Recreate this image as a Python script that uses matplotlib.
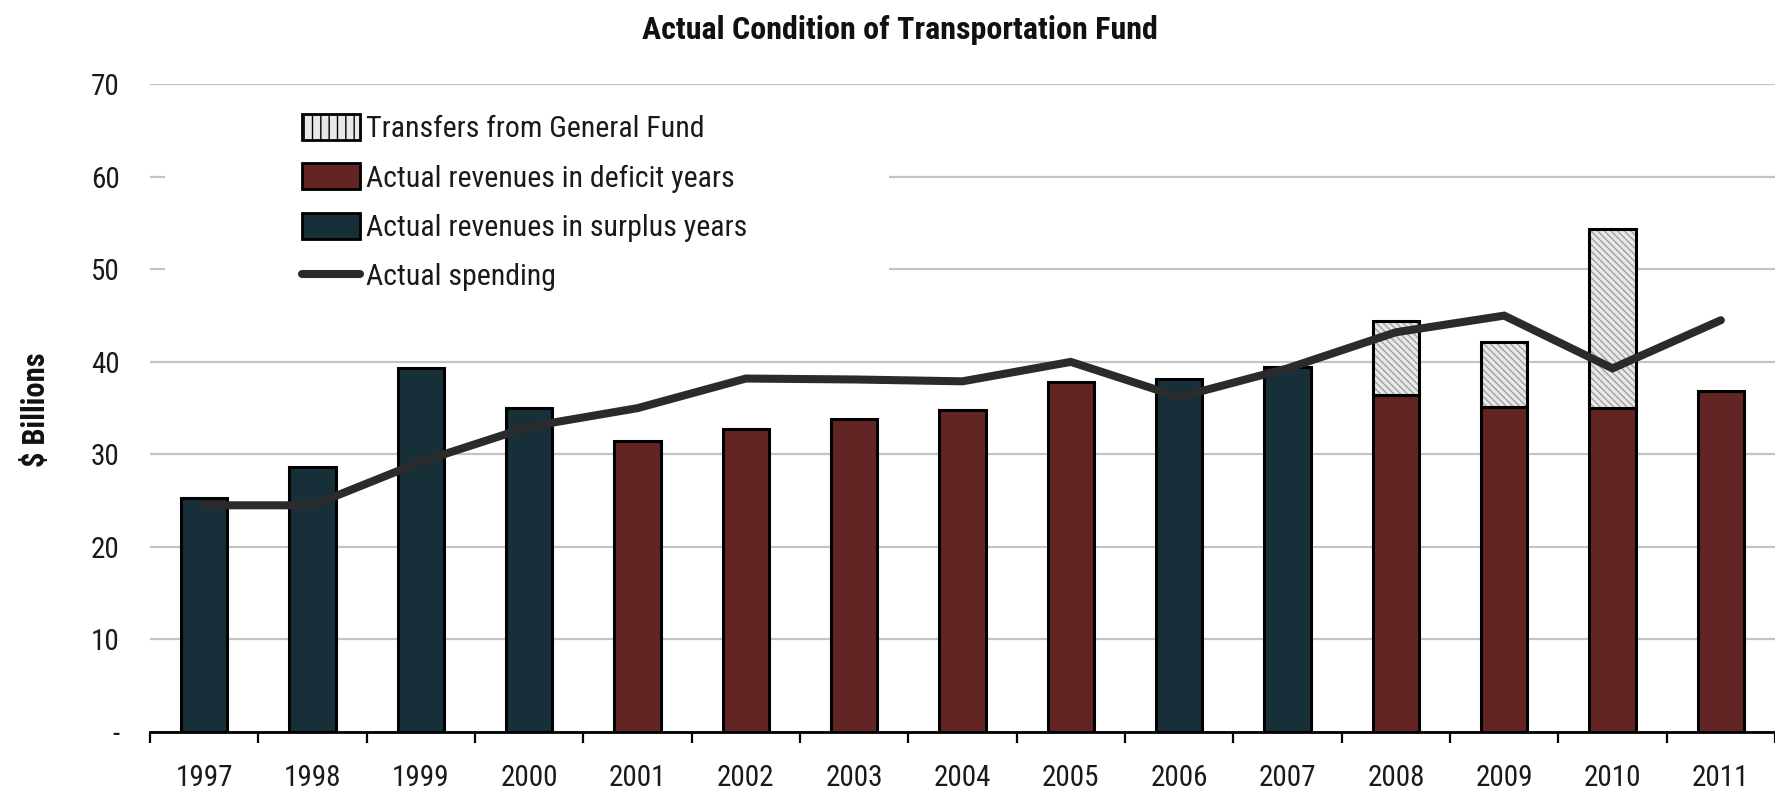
import numpy as np
import matplotlib
matplotlib.use("Agg")
import matplotlib.pyplot as plt
from matplotlib import font_manager
from matplotlib.patches import Patch, Rectangle
from matplotlib.lines import Line2D

names = {f.name for f in font_manager.fontManager.ttflist}
cond = [(f.name, f.stretch) for f in font_manager.fontManager.ttflist]
cands = ['Liberation Sans Narrow', 'Roboto Condensed', 'Open Sans Condensed',
         'Noto Sans Condensed', 'Arial Narrow', 'DejaVu Sans Condensed']
fam = next((c for c in cands if c in names), None)
if fam is None:
    cf = [n for n, s in cond if str(s) in ('condensed', 'semi-condensed', '600', '700', '500')
          and n in ('DejaVu Sans', 'Noto Sans', 'Roboto', 'Open Sans', 'Liberation Sans')]
    fam = cf[0] if cf else 'Liberation Sans'
    plt.rcParams['font.stretch'] = 'condensed'
plt.rcParams['font.family'] = [fam, 'DejaVu Sans']
plt.rcParams['hatch.linewidth'] = 1.0

years = ['1997', '1998', '1999', '2000', '2001', '2002', '2003', '2004',
         '2005', '2006', '2007', '2008', '2009', '2010', '2011']
surplus_revenue = [25.3, 28.6, 39.3, 35.0, 0, 0, 0, 0, 0, 38.1, 39.4, 0, 0, 0, 0]
deficit_revenue = [0, 0, 0, 0, 31.5, 32.7, 33.8, 34.8, 37.8, 0, 0, 36.4, 35.1, 35.0, 36.9]
transfers = [0, 0, 0, 0, 0, 0, 0, 0, 0, 0, 0, 8.0, 7.0, 19.4, 0]
spending = [24.5, 24.5, 29.2, 33.0, 35.0, 38.2, 38.1, 37.9, 40.0, 36.2, 39.3, 43.2, 45.0, 39.3, 44.5]
yticks = [0, 10, 20, 30, 40, 50, 60, 70]
ytick_labels = ['-', '10', '20', '30', '40', '50', '60', '70']

teal = '#172f38'
maroon = '#622524'
hatch_face = '#e8e8e8'
line_col = '#2b2b2b'

W, H = 1775, 789
fig = plt.figure(figsize=(W / 100, H / 100), dpi=100)
ax = fig.add_axes([150 / W, (H - 732) / H, 1625 / W, (732 - 84.3) / H])

x = np.arange(len(years))
sr = np.array(surplus_revenue, float)
dr = np.array(deficit_revenue, float)
tr = np.array(transfers, float)
bw = 0.43
ek = dict(edgecolor='black', linewidth=2.2, zorder=3)

m = sr > 0
ax.bar(x[m], sr[m], bw, color=teal, **ek)
m = dr > 0
ax.bar(x[m], dr[m], bw, color=maroon, **ek)
m = tr > 0
base = (sr + dr)[m]
ax.bar(x[m], tr[m], bw, bottom=base, color=hatch_face, hatch='\\\\\\\\\\',
       **ek)
for p in ax.patches[-int(m.sum()):]:
    p._hatch_color = matplotlib.colors.to_rgba('#a0a0a0')

ax.plot(x, spending, color=line_col, linewidth=5.8, solid_capstyle='round',
        solid_joinstyle='miter', zorder=4)

ax.set_xlim(-0.5, len(years) - 0.5)
ax.set_ylim(0, 70)
ax.set_yticks(yticks)
ax.set_yticklabels(ytick_labels)
ax.set_xticks(x)
ax.set_xticklabels(years)
ax.set_xticks(np.arange(-0.5, len(years), 1.0), minor=True)
ax.tick_params(axis='x', which='major', length=0, pad=23, labelsize=21, labelcolor='#1a1a1a')
ax.tick_params(axis='x', which='minor', length=8, width=1.6, direction='out', color='black')
ax.tick_params(axis='y', length=0, pad=22, labelsize=21, labelcolor='#1a1a1a')
for s in ['left', 'right', 'top']:
    ax.spines[s].set_visible(False)
ax.spines['bottom'].set_linewidth(2.0)
ax.spines['bottom'].set_zorder(5)
ax.set_axisbelow(True)
ax.yaxis.grid(True, color='#c4c4c4', linewidth=1.6)

# white area behind legend (hides gridlines there)
ax.add_patch(Rectangle((165 / W, 1 - 305 / H), (889 - 165) / W, (305 - 100) / H,
                       transform=fig.transFigure, facecolor='white',
                       edgecolor='none', zorder=1.5))

handles = [
    Patch(facecolor=hatch_face, edgecolor='black', linewidth=2.0, hatch='||'),
    Patch(facecolor=maroon, edgecolor='black', linewidth=2.0),
    Patch(facecolor=teal, edgecolor='black', linewidth=2.0),
    Line2D([0], [0], color=line_col, linewidth=5.8, solid_capstyle='round'),
]
labels = ['Transfers from General Fund', 'Actual revenues in deficit years',
          'Actual revenues in surplus years', 'Actual spending']
leg = fig.legend(handles, labels, loc='upper left',
                 bbox_to_anchor=(302 / W, 1 - 114 / H), frameon=False,
                 fontsize=21.5, handlelength=1.95, handleheight=0.95,
                 handletextpad=0.2, labelspacing=0.68, borderpad=0.0,
                 borderaxespad=0.0)
for t in leg.get_texts():
    t.set_color('#1a1a1a')

fig.text(900 / W, 1 - 30 / H, 'Actual Condition of Transportation Fund',
         ha='center', va='center', fontsize=23, fontweight='bold', color='#111111')
fig.text(36 / W, 1 - 410 / H, '$ Billions', rotation=90, ha='center',
         va='center', fontsize=22, fontweight='bold', color='#111111')

fig.savefig('out.png', dpi=100)
